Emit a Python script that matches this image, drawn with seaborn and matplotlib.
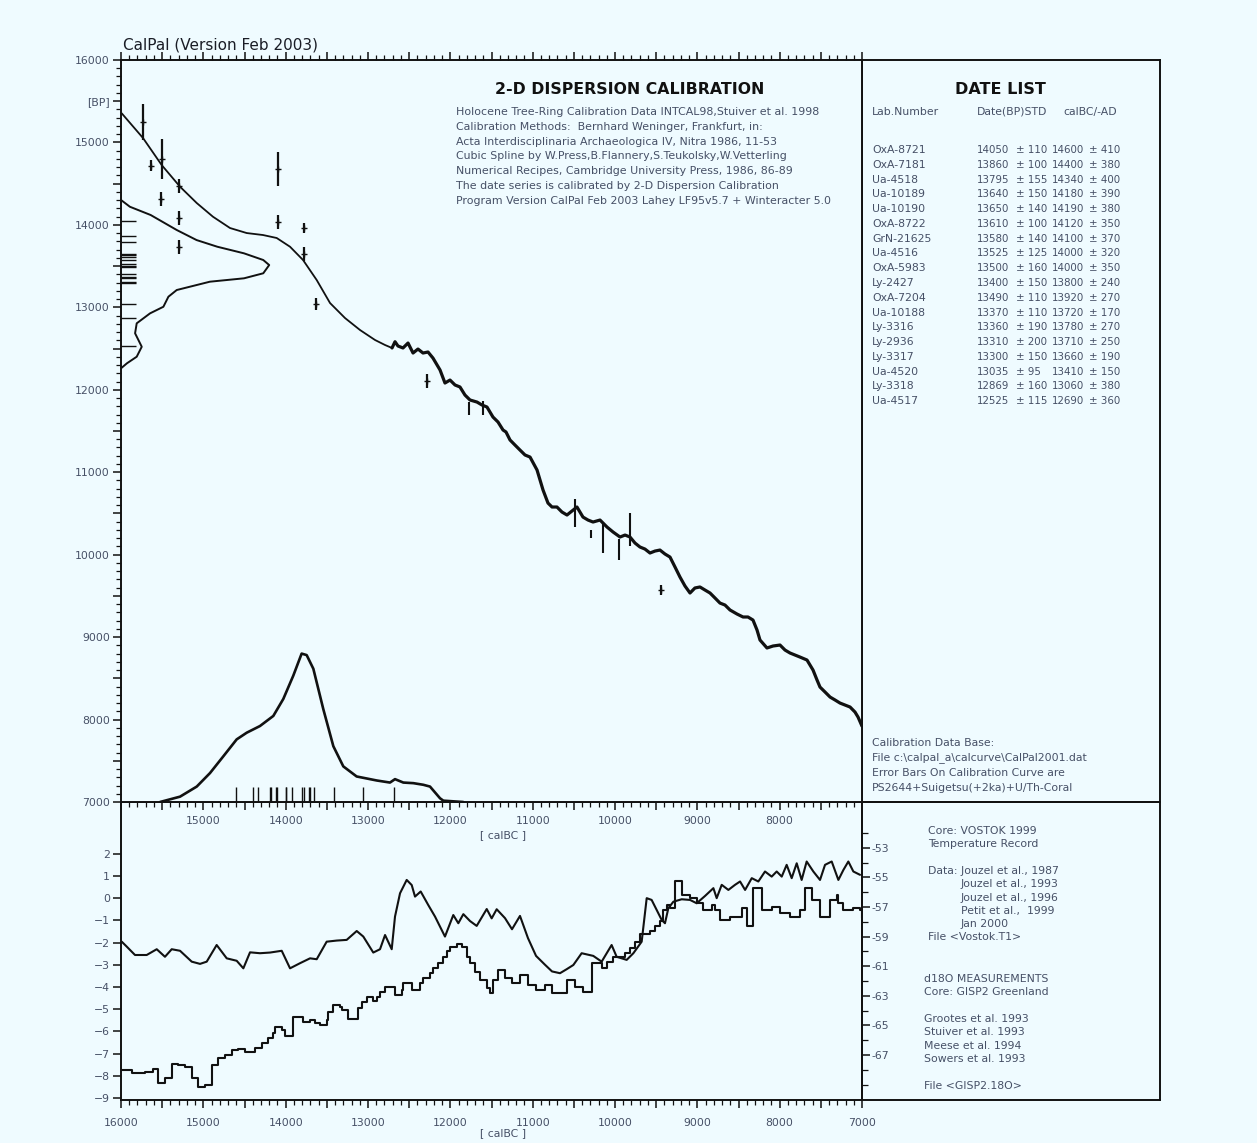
import numpy as np
import matplotlib
matplotlib.use("Agg")
import matplotlib.pyplot as plt
import seaborn as sns
from matplotlib.ticker import MultipleLocator, FixedLocator, FuncFormatter, NullFormatter

# ------------------------------------------------------------------ data
# calibration curve: spline part (smooth) and INTCAL part (noisy), calBC vs BP
SPLINE_CAL = [15991, 15733, 15506, 15283, 15080, 14883, 14676, 14473, 14275, 14109,
              13947, 13789, 13623, 13461, 13279, 13097, 12915, 12793, 12708]
SPLINE_BP = [15353, 15054, 14726, 14463, 14265, 14099, 13962, 13901, 13877, 13841,
             13735, 13574, 13331, 13052, 12870, 12725, 12604, 12543, 12507]
INTCAL_CAL = [12708, 12672, 12636, 12575, 12514, 12453, 12393, 12332, 12271, 12211,
              12125, 12065, 12004, 11943, 11883, 11822, 11761, 11676, 11615, 11555,
              11482, 11421, 11360, 11324, 11275, 11215, 11154, 11093, 11032, 10947,
              10874, 10814, 10765, 10705, 10644, 10583, 10522, 10462, 10389, 10328,
              10267, 10182, 10097, 10024, 9939, 9878, 9818, 9757, 9697, 9636,
              9575, 9514, 9454, 9393, 9332, 9271, 9211, 9150, 9089, 9029,
              8968, 8907, 8846, 8785, 8725, 8664, 8603, 8518, 8445, 8385,
              8324, 8275, 8239, 8154, 8081, 7996, 7935, 7874, 7753, 7668,
              7595, 7546, 7510, 7449, 7388, 7327, 7267, 7206, 7145, 7085,
              7048, 7000]
INTCAL_BP = [12507, 12583, 12531, 12507, 12567, 12446, 12494, 12446, 12458, 12385,
             12240, 12082, 12118, 12058, 12034, 11936, 11876, 11851, 11815, 11791,
             11669, 11609, 11512, 11488, 11391, 11330, 11269, 11209, 11184, 11027,
             10784, 10626, 10578, 10578, 10517, 10481, 10530, 10578, 10456, 10420,
             10396, 10420, 10335, 10275, 10214, 10238, 10214, 10141, 10093, 10068,
             10020, 10044, 10056, 10008, 9971, 9850, 9729, 9620, 9535, 9596,
             9608, 9571, 9535, 9474, 9413, 9389, 9329, 9280, 9244, 9244,
             9207, 9086, 8965, 8868, 8892, 8904, 8843, 8807, 8758, 8722,
             8601, 8479, 8394, 8334, 8273, 8237, 8200, 8176, 8152, 8091,
             8030, 7920]
# error bars on calibration curve
CERR_CAL = [11770, 11600, 10490, 10290, 10150, 9950, 9820]
CERR_BP = [11775, 11780, 10510, 10250, 10210, 10060, 10300]
CERR_SD = [80, 80, 170, 50, 190, 130, 200]

# dated samples plotted with error bars
SAMPLE_CAL = [15729, 15640, 15506, 15292, 15515, 15292, 15292, 14089, 14089, 13773, 13773, 13631, 12279, 9441]
SAMPLE_BP = [15252, 14718, 14799, 14472, 14314, 14083, 13731, 14678, 14035, 13962, 13646, 13040, 12106, 9571]
SAMPLE_SD = [220, 70, 240, 80, 90, 90, 90, 210, 80, 60, 90, 70, 90, 60]

# date list
LAB = ["OxA-8721", "OxA-7181", "Ua-4518", "Ua-10189", "Ua-10190", "OxA-8722", "GrN-21625",
       "Ua-4516", "OxA-5983", "Ly-2427", "OxA-7204", "Ua-10188", "Ly-3316", "Ly-2936",
       "Ly-3317", "Ua-4520", "Ly-3318", "Ua-4517"]
DATE_BP = [14050, 13860, 13795, 13640, 13650, 13610, 13580, 13525, 13500, 13400, 13490,
           13370, 13360, 13310, 13300, 13035, 12869, 12525]
DATE_STD = [110, 100, 155, 150, 140, 100, 140, 125, 160, 150, 110, 110, 190, 200, 150, 95, 160, 115]
CAL_MED = [14600, 14400, 14340, 14180, 14190, 14120, 14100, 14000, 14000, 13800, 13920,
           13720, 13780, 13710, 13660, 13410, 13060, 12690]
CAL_STD = [410, 380, 400, 390, 380, 350, 370, 320, 350, 240, 270, 170, 270, 250, 190, 150, 380, 360]

# summed probability in BP (left) and calBC (bottom), relative units
PB_BP = [14302, 14220, 14120, 13938, 13816, 13735, 13655, 13574, 13513, 13413, 13352,
         13311, 13210, 13129, 13007, 12927, 12806, 12685, 12522, 12401, 12321, 12260]
PB_DENS = [0.0, 0.06, 0.20, 0.376, 0.51, 0.65, 0.83, 0.96, 1.0, 0.96, 0.83,
           0.60, 0.376, 0.32, 0.286, 0.196, 0.106, 0.095, 0.14, 0.106, 0.04, 0.0]
PC_CAL = [15526, 15283, 15080, 14919, 14757, 14595, 14473, 14312, 14150, 14029, 13907,
          13806, 13745, 13664, 13543, 13421, 13300, 13138, 12894, 12733, 12672, 12571,
          12449, 12328, 12247, 12125, 12085, 11843]
PC_DENS = [0.0, 0.036, 0.104, 0.195, 0.308, 0.422, 0.467, 0.512, 0.580, 0.694, 0.852,
           1.0, 0.99, 0.898, 0.626, 0.376, 0.240, 0.172, 0.145, 0.131, 0.154, 0.131,
           0.127, 0.116, 0.104, 0.025, 0.009, 0.0]

# Vostok temperature record
VOSTOK_CAL = [15991, 15931, 15830, 15688, 15566, 15466, 15384, 15283, 15141, 15040,
              14959, 14838, 14716, 14595, 14514, 14433, 14312, 14190, 14048, 13947,
              13826, 13704, 13623, 13502, 13380, 13259, 13137, 13057, 12936, 12854,
              12793, 12712, 12672, 12611, 12530, 12469, 12429, 12360, 12268, 12186,
              12065, 11964, 11903, 11842, 11761, 11680, 11558, 11498, 11437, 11336,
              11251, 11154, 11057, 10959, 10850, 10765, 10668, 10587, 10506, 10405,
              10264, 10162, 10041, 9980, 9858, 9777, 9676, 9615, 9555, 9494,
              9433, 9393, 9352, 9291, 9190, 9089, 9008, 8906, 8805, 8765,
              8704, 8623, 8542, 8481, 8420, 8339, 8259, 8178, 8097, 8036,
              7975, 7915, 7854, 7793, 7733, 7672, 7591, 7510, 7449, 7368,
              7287, 7226, 7166, 7105, 7024]
VOSTOK_T = [-1.96, -2.18, -2.56, -2.56, -2.30, -2.64, -2.30, -2.37, -2.86, -2.96,
            -2.86, -2.11, -2.71, -2.82, -3.16, -2.44, -2.48, -2.45, -2.37, -3.16,
            -2.93, -2.71, -2.75, -1.96, -1.91, -1.88, -1.48, -1.73, -2.45, -2.30,
            -1.66, -2.30, -0.83, 0.22, 0.82, 0.59, 0.07, 0.30, -0.31, -0.83,
            -1.73, -0.76, -1.13, -0.72, -1.03, -1.25, -0.49, -0.91, -0.50, -0.90,
            -1.40, -0.80, -1.80, -2.60, -3.00, -3.30, -3.38, -3.20, -3.01, -2.48,
            -2.60, -2.86, -2.11, -2.64, -2.78, -2.48, -1.96, 0.00, -0.08, -0.53,
            -0.98, -1.13, -0.45, -0.16, -0.05, -0.08, -0.23, 0.10, 0.45, 0.00,
            0.60, 0.37, 0.60, 0.75, 0.37, 0.90, 0.75, 1.20, 0.97, 1.20,
            0.97, 1.50, 0.90, 1.57, 0.82, 1.65, 1.20, 0.82, 1.50, 1.65,
            0.82, 1.27, 1.65, 1.20, 1.05]

# GISP2 d18O (step record, drawn in left-axis units)
GISP_CAL = [15990, 15870, 15708, 15608, 15547, 15466, 15384, 15304, 15223, 15141,
            15061, 14980, 14898, 14818, 14737, 14655, 14575, 14494, 14372, 14291,
            14211, 14150, 14130, 14048, 14008, 13907, 13786, 13704, 13644, 13583,
            13502, 13482, 13421, 13340, 13319, 13239, 13118, 13077, 13016, 12936,
            12894, 12854, 12793, 12672, 12591, 12571, 12469, 12368, 12328, 12247,
            12207, 12146, 12085, 12044, 12004, 11923, 11862, 11801, 11761, 11700,
            11640, 11558, 11518, 11478, 11417, 11336, 11251, 11154, 11057, 10959,
            10850, 10765, 10587, 10486, 10385, 10283, 10162, 10101, 10021, 9878,
            9818, 9757, 9697, 9575, 9514, 9454, 9413, 9372, 9332, 9271,
            9190, 9089, 9008, 8927, 8825, 8785, 8725, 8603, 8461, 8400,
            8320, 8218, 8097, 7996, 7874, 7753, 7692, 7611, 7510, 7388,
            7307, 7287, 7227, 7106, 7025, 7004]
GISP_D18O = [-7.74, -7.86, -7.82, -7.71, -8.31, -8.11, -7.47, -7.51, -7.59, -8.11,
             -8.52, -8.41, -7.51, -7.21, -7.06, -6.84, -6.79, -6.91, -6.76, -6.54,
             -6.31, -6.09, -5.79, -5.94, -6.21, -5.33, -5.56, -5.49, -5.64, -5.71,
             -5.49, -5.11, -4.81, -4.89, -5.04, -5.45, -4.96, -4.66, -4.43, -4.62,
             -4.43, -4.21, -3.98, -4.36, -4.14, -3.80, -4.14, -3.83, -3.61, -3.38,
             -3.16, -2.93, -2.64, -2.37, -2.18, -2.06, -2.18, -2.64, -2.93, -3.31,
             -3.68, -4.06, -4.28, -3.68, -3.23, -3.60, -3.82, -3.46, -3.90, -4.14,
             -3.90, -4.27, -3.68, -3.99, -4.21, -2.93, -3.16, -2.86, -2.63, -2.48,
             -2.25, -1.96, -1.61, -1.50, -1.27, -1.05, -0.53, -0.31, -0.45, 0.79,
             0.14, 0.00, -0.23, -0.53, -0.31, -0.53, -0.98, -0.83, -0.45, -1.27,
             0.45, -0.53, -0.38, -0.68, -0.83, -0.53, 0.45, -0.08, -0.83, -0.08,
             0.14, -0.23, -0.53, -0.45, -0.53, -0.90]

RIGHT_TICKS = [-53, -55, -57, -59, -61, -63, -65, -67]

INFO_LINES = [
    "Holocene Tree-Ring Calibration Data INTCAL98,Stuiver et al. 1998",
    "Calibration Methods:  Bernhard Weninger, Frankfurt, in:",
    "Acta Interdisciplinaria Archaeologica IV, Nitra 1986, 11-53",
    "Cubic Spline by W.Press,B.Flannery,S.Teukolsky,W.Vetterling",
    "Numerical Recipes, Cambridge University Press, 1986, 86-89",
    "The date series is calibrated by 2-D Dispersion Calibration",
    "Program Version CalPal Feb 2003 Lahey LF95v5.7 + Winteracter 5.0",
]
DB_LINES = ["Calibration Data Base:",
            "File c:\\calpal_a\\calcurve\\CalPal2001.dat",
            "Error Bars On Calibration Curve are",
            "PS2644+Suigetsu(+2ka)+U/Th-Coral"]

# ------------------------------------------------------------------ style
sns.set_theme(style="ticks")
plt.rcParams["font.family"] = ["DejaVu Sans"]
BG = "#effbff"
INK = "#111111"
GRAY = "#465066"
plt.rcParams.update({"axes.edgecolor": INK, "axes.linewidth": 1.4,
                     "xtick.color": INK, "ytick.color": INK,
                     "xtick.labelcolor": GRAY, "ytick.labelcolor": GRAY,
                     "xtick.labelsize": 7.8, "ytick.labelsize": 7.8})

W, H = 1257, 1143
fig = plt.figure(figsize=(W / 100, H / 100), dpi=100, facecolor=BG)


def rect(x0, y0, x1, y1):
    return [x0 / W, 1 - y1 / H, (x1 - x0) / W, (y1 - y0) / H]


def T(x, y, s, **kw):
    kw.setdefault("color", GRAY)
    kw.setdefault("fontsize", 7.8)
    kw.setdefault("ha", "left")
    fig.text(x / W, 1 - y / H, s, va="center", **kw)


axl = fig.add_axes(rect(862, 60, 1160, 802))
axr = fig.add_axes(rect(862, 802, 1160, 1100))
axb = fig.add_axes(rect(121, 802, 862, 1100))
ax = fig.add_axes(rect(121, 60, 862, 802))
ax.set_facecolor(BG)
axb.set_facecolor("none")
axl.set_facecolor(BG)
axr.set_facecolor("none")

# ------------------------------------------------------------------ main panel
lkw = dict(sort=False, estimator=None, color=INK, ax=ax, legend=False)
sns.lineplot(x=SPLINE_CAL, y=SPLINE_BP, lw=1.3, **lkw)
sns.lineplot(x=INTCAL_CAL, y=INTCAL_BP, lw=2.3, **lkw)
ax.errorbar(CERR_CAL, CERR_BP, yerr=CERR_SD, fmt="none", ecolor=INK, elinewidth=1.5)
ax.errorbar(SAMPLE_CAL, SAMPLE_BP, yerr=SAMPLE_SD, fmt="+", color=INK, ms=4,
            mew=1.0, ecolor=INK, elinewidth=1.6)

dens_span = 1800
sns.lineplot(x=16000 - np.array(PB_DENS) * dens_span, y=PB_BP, lw=1.4, **lkw)
sns.lineplot(x=PC_CAL, y=7000 + np.array(PC_DENS) * dens_span, lw=1.9, **lkw)
sns.rugplot(y=DATE_BP, ax=ax, height=0.02, color=INK, lw=1.2, expand_margins=False)
sns.rugplot(x=CAL_MED, ax=ax, height=0.02, color=INK, lw=1.2, expand_margins=False)

ax.set_xlim(16000, 7000)
ax.set_ylim(7000, 16000)
ax.set_xlabel("")
ax.set_ylabel("")
for axis in (ax.xaxis, ax.yaxis):
    axis.set_major_locator(MultipleLocator(500))
    axis.set_minor_locator(MultipleLocator(100))
ax.xaxis.set_major_formatter(FuncFormatter(
    lambda v, p: f"{int(v)}" if v % 1000 == 0 and 7000 < v < 16000 else ""))
ax.yaxis.set_major_formatter(FuncFormatter(
    lambda v, p: "[BP]" if v == 15500 else (f"{int(v)}" if v % 1000 == 0 else "")))
ax.tick_params(axis="x", which="both", top=True, bottom=True, direction="out")
ax.tick_params(axis="y", which="both", left=True, right=False, direction="out")
ax.tick_params(which="major", length=6, width=1.1, pad=2)
ax.tick_params(which="minor", length=3.5, width=0.9)
ax.tick_params(axis="x", which="major", pad=4)

# right-hand spine ticks of main panel point into the plot (via date-list axes)
axl.set_ylim(7000, 16000)
axl.yaxis.set_major_locator(MultipleLocator(500))
axl.yaxis.set_minor_locator(MultipleLocator(100))
axl.yaxis.set_major_formatter(NullFormatter())
axl.tick_params(axis="y", which="both", left=True, right=False, direction="out")
axl.tick_params(which="major", length=6, width=1.1)
axl.tick_params(which="minor", length=3.5, width=0.9)
axl.set_xticks([])
axr.set_xticks([])
axr.set_yticks([])

# ------------------------------------------------------------------ bottom panel
bkw = dict(sort=False, estimator=None, color=INK, ax=axb, legend=False, lw=1.5)
sns.lineplot(x=VOSTOK_CAL, y=VOSTOK_T, **bkw)
sns.lineplot(x=GISP_CAL, y=GISP_D18O, drawstyle="steps-post", **bkw)
axb.set_xlim(16000, 7000)
axb.set_ylim(-9.09, 4.33)
axb.set_xlabel("")
axb.set_ylabel("")
axb.xaxis.set_major_locator(MultipleLocator(500))
axb.xaxis.set_minor_locator(MultipleLocator(100))
axb.xaxis.set_major_formatter(FuncFormatter(lambda v, p: f"{int(v)}" if v % 1000 == 0 else ""))
axb.yaxis.set_major_locator(FixedLocator(list(range(-9, 3))))
axb.tick_params(axis="x", which="both", top=False, bottom=True, direction="out")
axb.tick_params(axis="y", which="both", left=True, right=False, direction="out")
axb.tick_params(which="major", length=6, width=1.1, pad=2)
axb.tick_params(which="minor", length=3.5, width=0.9)
axb.tick_params(axis="x", which="major", pad=7)

axt = axb.twinx()
axt.set_ylim(-70.04, -49.9)
axt.yaxis.set_major_locator(FixedLocator(RIGHT_TICKS))
axt.yaxis.set_minor_locator(FixedLocator(list(range(-69, -51))))
axt.yaxis.set_major_formatter(FuncFormatter(lambda v, p: f"{int(v)}"))
axt.tick_params(axis="y", which="both", right=True, direction="out")
axt.tick_params(which="major", length=6, width=1.1, pad=1)
axt.tick_params(which="minor", length=4, width=0.9)
for s in ("left", "top", "bottom"):
    axt.spines[s].set_visible(False)

# ------------------------------------------------------------------ texts
T(123, 45, "CalPal (Version Feb 2003)", color="#1a1d26", fontsize=11)
T(630, 89, "2-D DISPERSION CALIBRATION", color=INK, fontsize=11.3,
  fontweight="bold", ha="center")
for i, line in enumerate(INFO_LINES):
    T(456, 112 + i * 14.8, line, fontsize=7.9)
T(480, 835, "[ calBC ]")
T(480, 1133, "[ calBC ]")

T(1000, 89, "DATE LIST", color=INK, fontsize=11.5, fontweight="bold", ha="center")
T(872, 112, "Lab.Number")
T(977, 112, "Date(BP)STD")
T(1063, 112, "calBC/-AD")
for i in range(len(LAB)):
    y = 150 + i * 14.78
    T(872, y, LAB[i])
    T(977, y, f"{DATE_BP[i]}", fontsize=7.4)
    T(1016, y, f"\u00b1 {DATE_STD[i]}", fontsize=7.4)
    T(1052, y, f"{CAL_MED[i]}", fontsize=7.4)
    T(1089, y, f"\u00b1 {CAL_STD[i]}", fontsize=7.4)
for i, line in enumerate(DB_LINES):
    T(872, 743 + i * 15, line)

T(928, 831, "Core: VOSTOK 1999")
T(928, 844, "Temperature Record")
T(928, 871, "Data: Jouzel et al., 1987")
T(960, 884, "Jouzel et al., 1993")
T(960, 898, "Jouzel et al., 1996")
T(961, 911, "Petit et al.,  1999")
T(960, 924, "Jan 2000")
T(928, 937, "File <Vostok.T1>")
T(924, 979, "d18O MEASUREMENTS")
T(924, 992, "Core: GISP2 Greenland")
T(924, 1019, "Grootes et al. 1993")
T(924, 1032, "Stuiver et al. 1993")
T(924, 1046, "Meese et al. 1994")
T(924, 1059, "Sowers et al. 1993")
T(924, 1086, "File <GISP2.18O>")

fig.savefig("out.png", dpi=100, facecolor=BG)
